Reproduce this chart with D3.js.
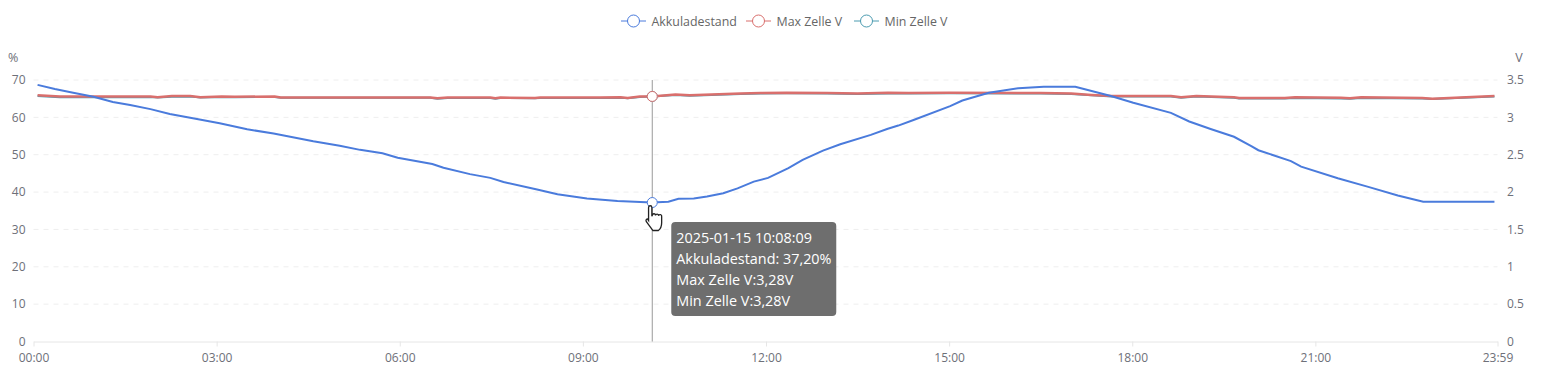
<!DOCTYPE html>
<html>
<head>
<meta charset="utf-8">
<script src="https://cdnjs.cloudflare.com/ajax/libs/d3/7.8.5/d3.min.js"></script>
<style>
  html, body { margin: 0; padding: 0; background: #fff; }
  svg { display: block; font-family: "Open Sans", "Noto Sans", sans-serif; }
  .tick text { fill: #6e7079; font-size: 12px; }
</style>
</head>
<body>
<svg id="chart" width="1545" height="373"></svg>
<script>
const socTimes = ["00:04","00:21","00:39","00:59","01:18","01:35","01:55","02:14","02:34","03:03","03:30","03:56","04:35","05:01","05:21","05:43","05:58","06:32","06:43","07:09","07:29","07:42","08:15","08:35","09:04","09:34","10:08","10:13","10:24","10:34","10:49","11:02","11:18","11:32","11:48","12:02","12:22","12:36","12:56","13:13","13:43","13:59","14:10","14:25","15:01","15:13","15:39","16:08","16:33","17:04","17:39","18:01","18:38","18:56","19:17","19:40","19:57","20:04","20:36","20:46","21:22","21:52","22:21","22:46","23:56"];
const socValues = [68.7,67.6,66.6,65.5,64.1,63.3,62.2,60.9,59.9,58.4,56.8,55.7,53.6,52.4,51.3,50.4,49.2,47.5,46.5,44.8,43.8,42.7,40.7,39.4,38.3,37.6,37.2,37.3,37.4,38.2,38.3,38.8,39.7,41,42.8,43.8,46.4,48.6,51.1,52.8,55.3,56.9,57.8,59.3,63,64.5,66.6,67.8,68.2,68.2,65.7,63.9,61.2,58.9,56.9,54.8,52.3,51.2,48.3,46.8,43.7,41.4,39.1,37.4,37.4];

const voltTimes = ["00:04","00:26","01:55","02:02","02:16","02:34","02:44","03:05","03:18","03:57","04:03","06:30","06:37","06:47","07:29","07:34","07:39","08:13","08:18","09:17","09:37","09:44","09:56","10:08","10:31","10:45","11:35","11:55","12:20","13:00","13:30","14:00","14:20","15:00","16:30","17:00","17:20","17:40","18:38","18:48","19:03","19:40","19:45","20:30","20:40","21:25","21:34","21:45","22:45","22:55","23:56"];
const maxVolt = [3.295,3.28,3.28,3.27,3.285,3.285,3.27,3.28,3.275,3.28,3.265,3.265,3.255,3.265,3.265,3.255,3.265,3.26,3.265,3.265,3.268,3.26,3.28,3.28,3.305,3.295,3.32,3.325,3.33,3.325,3.32,3.33,3.325,3.33,3.325,3.32,3.3,3.285,3.285,3.268,3.285,3.27,3.26,3.26,3.268,3.262,3.255,3.268,3.26,3.25,3.285];
const minVolt = [3.285,3.27,3.272,3.265,3.275,3.278,3.265,3.272,3.27,3.272,3.262,3.262,3.248,3.26,3.26,3.25,3.26,3.255,3.26,3.26,3.262,3.255,3.272,3.28,3.298,3.29,3.312,3.318,3.322,3.318,3.312,3.32,3.318,3.322,3.318,3.312,3.295,3.28,3.28,3.262,3.278,3.262,3.252,3.252,3.26,3.252,3.248,3.26,3.252,3.245,3.278];

const percentTicks = [0,10,20,30,40,50,60,70];
const voltTicks = [0,0.5,1,1.5,2,2.5,3,3.5];
const timeTicks = ["00:00","03:00","06:00","09:00","12:00","15:00","18:00","21:00","23:59"];
const legendNames = ["Akkuladestand","Max Zelle V","Min Zelle V"];
const hoverTime = "10:08";
const tooltipLines = ["2025-01-15 10:08:09","Akkuladestand: 37,20%","Max Zelle V:3,28V","Min Zelle V:3,28V"];

const blue = "#4a7bdc", red = "#d96f6d", teal = "#4b9bb0";
const margin = {top: 80, right: 47.5, bottom: 31.5, left: 33.5};
const svg = d3.select("#chart");
const width = +svg.attr("width"), height = +svg.attr("height");
const parseTime = d3.timeParse("%H:%M");

const x = d3.scaleTime().domain([parseTime("00:00"), parseTime("23:59")]).range([margin.left, width - margin.right]);
const yLeft = d3.scaleLinear().domain([0,70]).range([height - margin.bottom, margin.top]);
const yRight = d3.scaleLinear().domain([0,3.5]).range([height - margin.bottom, margin.top]);

// gridlines
svg.append("g").selectAll("line").data(percentTicks.slice(1)).join("line")
    .attr("x1", x.range()[0]).attr("x2", x.range()[1])
    .attr("y1", d => yLeft(d)).attr("y2", d => yLeft(d))
    .attr("stroke", "#eeeeee").attr("stroke-dasharray", "5,5");

// axes
let bottomAxis = d3.axisBottom(x).tickValues(timeTicks.map(parseTime)).tickFormat(d3.timeFormat("%H:%M")).tickSize(5).tickPadding(7).tickSizeOuter(0);
let xAxis = svg.append("g").attr("transform", `translate(0,${height - margin.bottom})`).call(bottomAxis);
xAxis.selectAll("path,line").attr("stroke", "#e6e6e6");

let leftAxis = d3.axisLeft(yLeft).tickValues(percentTicks).tickFormat(d3.format("d")).tickSize(0).tickPadding(8);
let rightAxis = d3.axisRight(yRight).tickValues(voltTicks).tickFormat(d => d).tickSize(0).tickPadding(9.5);
let yAxisL = svg.append("g").attr("transform", `translate(${margin.left},0)`).call(leftAxis);
let yAxisR = svg.append("g").attr("transform", `translate(${width - margin.right},0)`).call(rightAxis);
yAxisL.select(".domain").remove();
yAxisR.select(".domain").remove();
// d3 puts its own font on the axis group, drop it
[xAxis, yAxisL, yAxisR].forEach(a => a.attr("font-family", null).attr("font-size", null));

svg.append("text").attr("x", 8).attr("y", 62).attr("fill", "#6e7079").attr("font-size", 12.5).text("%");
svg.append("text").attr("x", 1519).attr("y", 62).attr("fill", "#6e7079").attr("font-size", 12.5).attr("text-anchor", "middle").text("V");

// lines
const voltLine = vals => d3.line().x(d => x(parseTime(d))).y((d, i) => yRight(vals[i]))(voltTimes);
const socLine = d3.line().x(d => x(parseTime(d))).y((d, i) => yLeft(socValues[i]));

svg.append("path").attr("d", voltLine(minVolt)).attr("fill", "none").attr("stroke", teal).attr("stroke-width", 2);
svg.append("path").attr("d", voltLine(maxVolt)).attr("fill", "none").attr("stroke", red).attr("stroke-width", 2.5);
svg.append("path").attr("d", socLine(socTimes)).attr("fill", "none").attr("stroke", blue).attr("stroke-width", 2);

// hover state
const hx = x(parseTime(hoverTime)) + 0.2;
svg.append("line").attr("x1", hx).attr("x2", hx).attr("y1", margin.top).attr("y2", height - margin.bottom)
    .attr("stroke", "#999").attr("stroke-width", 1);
const hoverIndex = voltTimes.indexOf(hoverTime);
svg.append("circle").attr("cx", hx).attr("cy", yRight(minVolt[hoverIndex])).attr("r", 5).attr("fill", "#fff").attr("stroke", teal);
svg.append("circle").attr("cx", hx).attr("cy", yRight(maxVolt[hoverIndex])).attr("r", 5).attr("fill", "#fff").attr("stroke", red);
const socY = yLeft(socValues[socTimes.indexOf(hoverTime)]);
svg.append("circle").attr("cx", hx).attr("cy", socY).attr("r", 5).attr("fill", "#fff").attr("stroke", blue);

// legend
const legendX = [621, 746, 854];
const legendColors = [blue, red, teal];
let legend = svg.append("g").selectAll("g").data(legendNames).join("g")
    .attr("transform", (d, i) => `translate(${legendX[i]},21)`);
legend.append("line").attr("x1", 0).attr("x2", 25).attr("stroke", (d, i) => legendColors[i]);
legend.append("circle").attr("cx", 12.5).attr("r", 6).attr("fill", "#fff").attr("stroke", (d, i) => legendColors[i]);
legend.append("text").attr("x", (d, i) => i == 2 ? 30.5 : 30.5).attr("y", 4.5).attr("fill", "#666").attr("font-size", 12.4).text(d => d);

// tooltip
let tip = svg.append("g").attr("transform", `translate(${hx + 19},222)`);
tip.append("rect").attr("width", 165).attr("height", 94).attr("rx", 4).attr("fill", "#6e6e6e");
tip.selectAll("text").data(tooltipLines).join("text")
    .attr("x", 5).attr("y", (d, i) => 21 + i * 21)
    .attr("fill", "#fff").attr("font-size", 14.4).text(d => d);

// mouse cursor from the screenshot
svg.append("path").attr("transform", `translate(${hx - 7},${socY + 0.5}) scale(1.1)`)
    .attr("d", "M3 4 a1.5 1.5 0 0 1 3 0 V12 l0.5 -1 a1.4 1.4 0 0 1 2.8 0.3 a1.4 1.4 0 0 1 2.8 0.3 a1.4 1.4 0 0 1 2.8 0.6 V18 q0 5 -3 7 H7 L1 17 q-1 -2 1 -2.5 L3 16 Z")
    .attr("fill", "#fff").attr("stroke", "#222").attr("stroke-width", 1.2);
</script>
</body>
</html>
